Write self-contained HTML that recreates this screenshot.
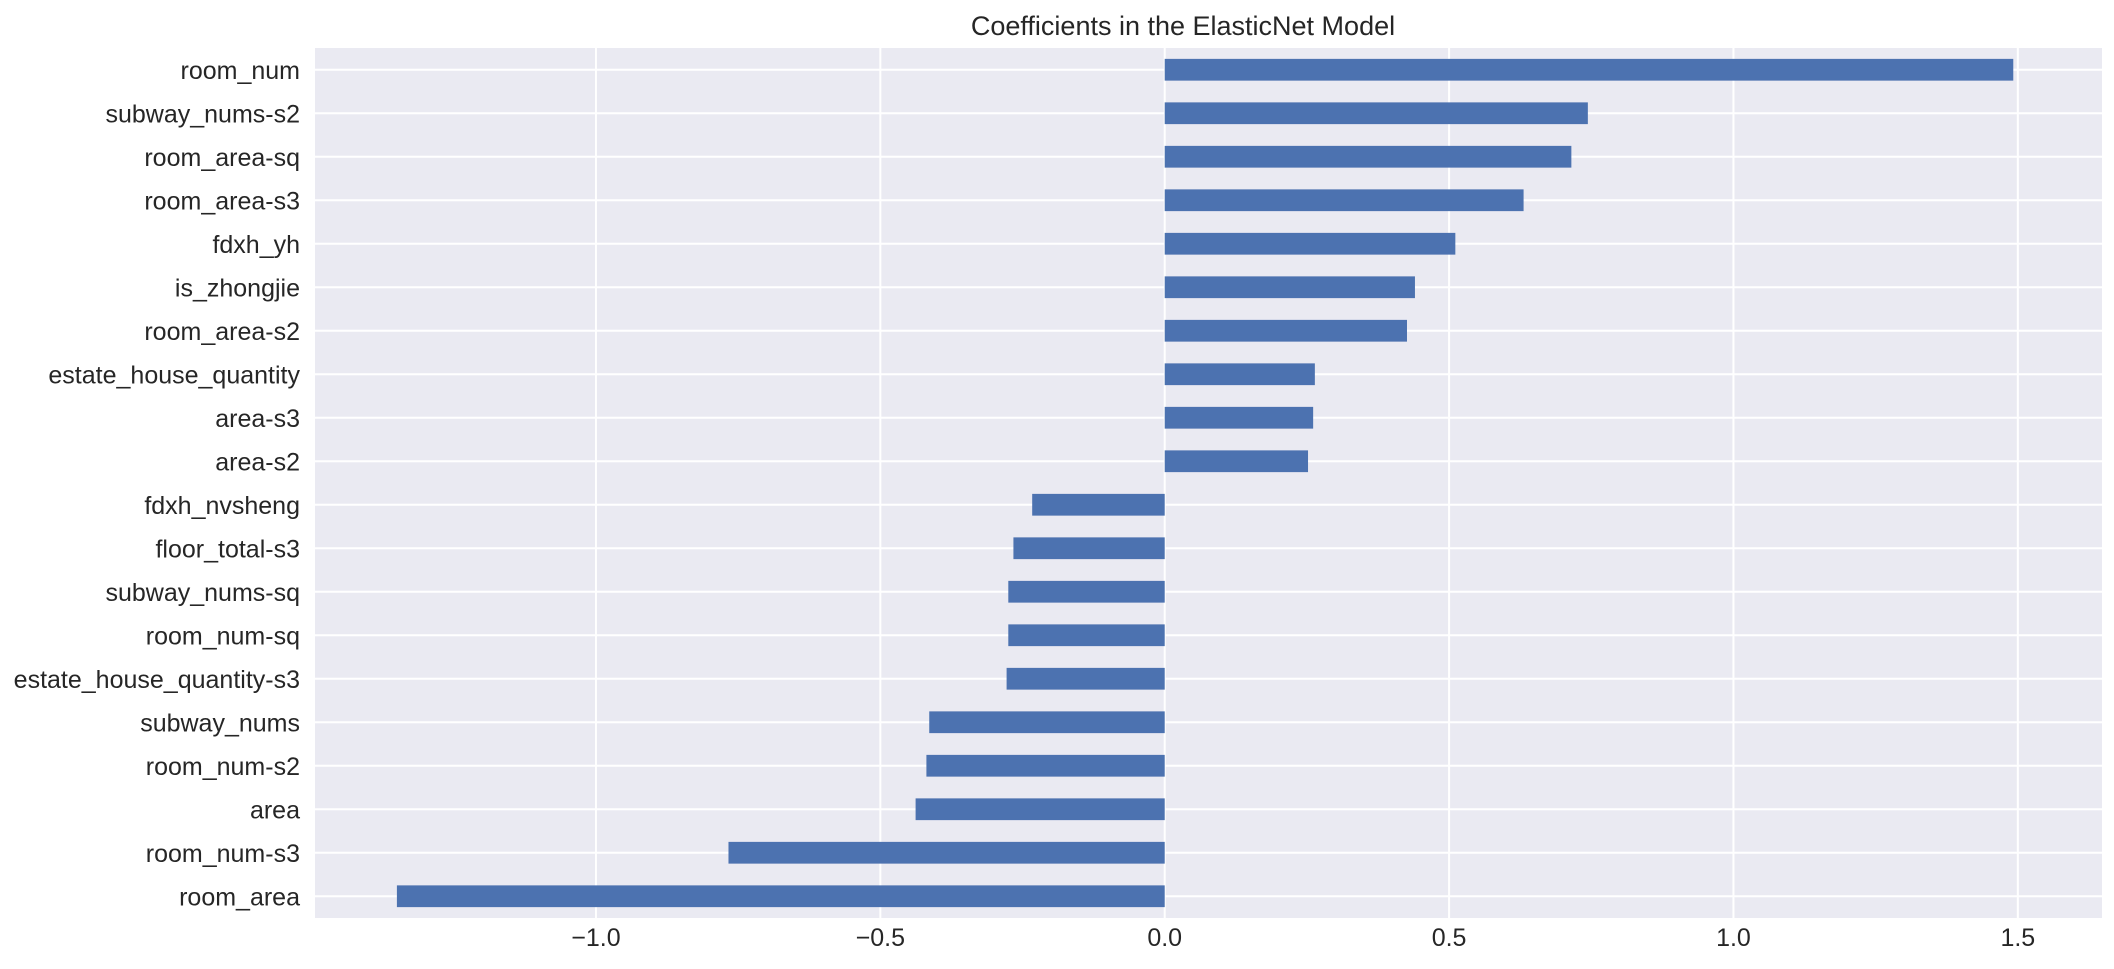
<!DOCTYPE html>
<html><head><meta charset="utf-8"><style>
body{margin:0;background:#fff;}
svg{display:block;font-family:"Liberation Sans",Arial,sans-serif;}
</style></head><body>
<svg id="chart" width="2114" height="969">
<text x="1183" y="35" font-size="27" fill="#262626" text-anchor="middle">Coefficients in the ElasticNet Model</text>
<rect x="315" y="48" width="1787" height="870" fill="#eaeaf2"/>
<g id="grid"></g><g id="bars"></g><g id="yticks"></g><g id="xticks"></g>
</svg>
<script>
const categories=["room_num","subway_nums-s2","room_area-sq","room_area-s3","fdxh_yh","is_zhongjie","room_area-s2","estate_house_quantity","area-s3","area-s2","fdxh_nvsheng","floor_total-s3","subway_nums-sq","room_num-sq","estate_house_quantity-s3","subway_nums","room_num-s2","area","room_num-s3","room_area"];
const values=[1.492,0.744,0.715,0.631,0.511,0.44,0.426,0.264,0.261,0.252,-0.233,-0.266,-0.275,-0.275,-0.278,-0.414,-0.419,-0.438,-0.767,-1.35];
const xTicks=[-1.0,-0.5,0.0,0.5,1.0,1.5];
const xTickLabels=["\u22121.0","\u22120.5","0.0","0.5","1.0","1.5"];
const NS="http://www.w3.org/2000/svg";
const L=315,R=2102,T=48,B=918,xmin=-1.494,xmax=1.648;
const x=v=>L+(v-xmin)/(xmax-xmin)*(R-L);
const step=(B-T)/categories.length;
const y=i=>T+step*(i+0.5);
function mk(tag,attrs,parent){const e=document.createElementNS(NS,tag);for(const k in attrs)e.setAttribute(k,attrs[k]);document.getElementById(parent).appendChild(e);return e;}
xTicks.forEach((t,i)=>{
  const g=mk("line",{x1:x(t),x2:x(t),y1:T,y2:B,stroke:"#fff","stroke-width":2},"grid");
  
  
  const lb=mk("text",{x:x(t),y:B+28,"font-size":25,fill:"#262626","text-anchor":"middle"},"xticks");
  lb.textContent=xTickLabels[i];
  
  
});
categories.forEach((c,i)=>{
  const g=mk("line",{x1:L,x2:R,y1:y(i),y2:y(i),stroke:"#fff","stroke-width":2},"grid");
  
  
  const v=values[i],h=step*0.5;
  const b=mk("rect",{x:Math.min(x(0),x(v)),y:y(i)-h/2,width:Math.abs(x(v)-x(0)),height:h,fill:"#4c72b0"},"bars");
  
  
  const lb=mk("text",{x:300,y:y(i)+9,"font-size":25,fill:"#262626","text-anchor":"end"},"yticks");
  lb.textContent=c;
  
  
});
</script>
</body></html>
